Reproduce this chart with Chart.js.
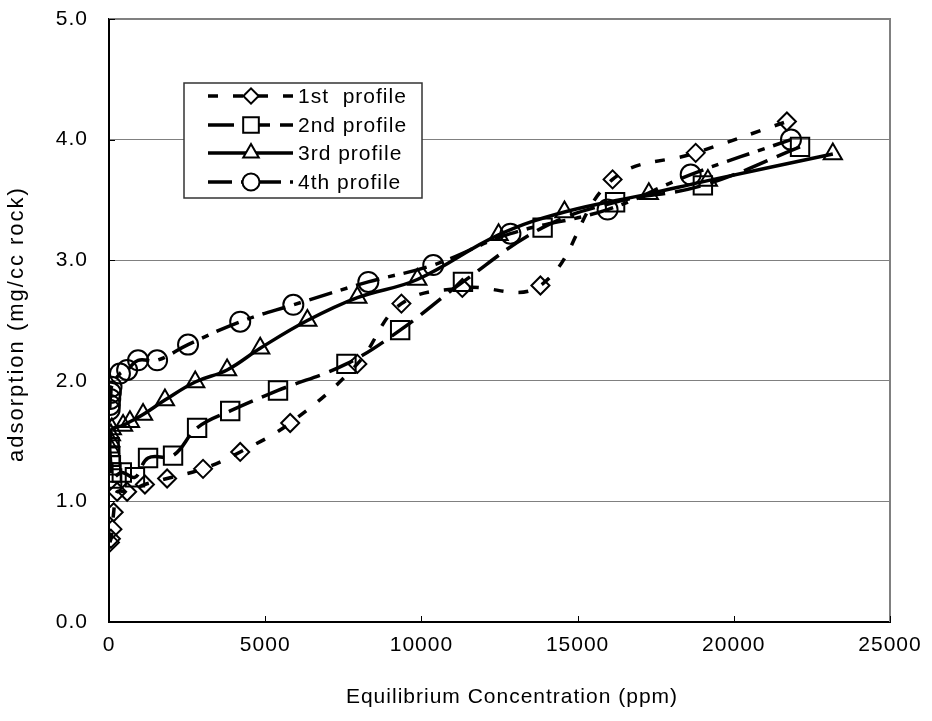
<!DOCTYPE html>
<html>
<head>
<meta charset="utf-8">
<script src="https://cdn.jsdelivr.net/npm/chart.js@4.4.1/dist/chart.umd.min.js"></script>
<style>
  body { margin: 0; background: #fff; }
  canvas { display: block; }
</style>
</head>
<body>
<canvas id="isoChart" width="932" height="721"></canvas>
<script>
// Adsorption isotherms, four profiles

const xTicks = [0, 5000, 10000, 15000, 20000, 25000];
const yTicks = [0, 1, 2, 3, 4, 5];

const p1X = [30, 60, 110, 150, 260, 580, 1150, 1860, 3010, 4200, 5800, 7950, 9360, 11310, 13810, 16120, 18780, 21700];
const p1Y = [0.66, 0.69, 0.77, 0.91, 1.08, 1.08, 1.14, 1.19, 1.27, 1.41, 1.65, 2.14, 2.64, 2.77, 2.79, 3.67, 3.89, 4.15];

const p2X = [20, 40, 60, 80, 100, 410, 830, 1250, 2050, 2820, 3880, 5410, 7600, 9320, 11330, 13880, 16200, 19010, 22120];
const p2Y = [1.45, 1.37, 1.30, 1.24, 1.19, 1.24, 1.20, 1.36, 1.38, 1.61, 1.75, 1.92, 2.14, 2.42, 2.82, 3.27, 3.48, 3.62, 3.94];

const p3X = [20, 40, 60, 90, 450, 670, 1090, 1790, 2760, 3780, 4840, 6350, 7950, 9870, 12470, 14580, 17280, 19170, 23170];
const p3Y = [1.45, 1.50, 1.55, 1.60, 1.63, 1.66, 1.72, 1.84, 1.99, 2.09, 2.27, 2.50, 2.69, 2.84, 3.21, 3.40, 3.55, 3.66, 3.88];

const p4X = [20, 30, 40, 60, 80, 350, 580, 930, 1540, 2530, 4200, 5900, 8300, 10380, 12850, 15960, 18620, 21830];
const p4Y = [1.76, 1.80, 1.85, 1.90, 1.95, 2.06, 2.09, 2.17, 2.17, 2.30, 2.49, 2.63, 2.82, 2.96, 3.22, 3.42, 3.71, 4.00];

const seriesNames = ["1st  profile", "2nd profile", "3rd profile", "4th profile"];
const xTitle = "Equilibrium Concentration (ppm)";
const yTitle = "adsorption (mg/cc rock)";

const FONT = "'Liberation Sans', Arial, sans-serif";

function pts(xs, ys) {
	return xs.map((x, i) => ({ x: x, y: ys[i] }));
}

function profile(label, xs, ys, style, radius, dash) {
	return {
		label: label,
		data: pts(xs, ys),
		showLine: true,
		tension: 0.4,
		borderColor: "#000",
		borderWidth: 3.5,
		borderDash: dash,
		borderCapStyle: "butt",
		pointStyle: style,
		pointRadius: radius,
		pointHoverRadius: radius,
		pointBorderWidth: 2,
		pointBorderColor: "#000",
		pointBackgroundColor: "rgba(0,0,0,0)",
	};
}

// the original text is a bit wider than plain Arial
const spacing = {
	id: "spacing",
	beforeDraw(chart) {
		chart.ctx.letterSpacing = "1px";
	},
};

// axis titles, legend box, inward ticks, gray frame on top/right
const decor = {
	id: "decor",
	afterDraw(chart) {
		const ctx = chart.ctx;
		const a = chart.chartArea;
		const xs = chart.scales.x;
		const ys = chart.scales.y;
		ctx.save();
		ctx.strokeStyle = "#808080";
		ctx.lineWidth = 2;
		ctx.beginPath();
		ctx.moveTo(a.left, a.top);
		ctx.lineTo(a.right, a.top);
		ctx.lineTo(a.right, a.bottom);
		ctx.stroke();

		ctx.strokeStyle = "#000";
		ctx.lineWidth = 1;
		ctx.beginPath();
		xTicks.forEach((v) => {
			const px = Math.round(xs.getPixelForValue(v)) + 0.5;
			ctx.moveTo(px, a.bottom);
			ctx.lineTo(px, a.bottom - 6);
		});
		yTicks.forEach((v) => {
			const py = Math.round(ys.getPixelForValue(v)) + 0.5;
			ctx.moveTo(a.left, py);
			ctx.lineTo(a.left + 6, py);
		});
		ctx.stroke();

		// axis titles
		ctx.fillStyle = "#000";
		ctx.textAlign = "center";
		ctx.textBaseline = "middle";
		ctx.font = "21px " + FONT;
		ctx.letterSpacing = "1px";
		ctx.fillText(xTitle, 512, 697);
		ctx.save();
		ctx.translate(17, 324);
		ctx.rotate(-Math.PI / 2);
		ctx.font = "22px " + FONT;
		ctx.letterSpacing = "2px";
		ctx.fillText(yTitle, 0, 0);
		ctx.restore();

		// legend
		const bx = 184, by = 83, bw = 238, bh = 115;
		ctx.fillStyle = "#fff";
		ctx.fillRect(bx, by, bw, bh);
		ctx.strokeStyle = "#333";
		ctx.lineWidth = 1.5;
		ctx.strokeRect(bx, by, bw, bh);
		const rows = [96, 125, 153, 182];
		chart.data.datasets.forEach((ds, i) => {
			const y = rows[i];
			ctx.strokeStyle = "#000";
			ctx.lineWidth = ds.borderWidth;
			ctx.lineCap = "butt";
			ctx.setLineDash(ds.borderDash);
			ctx.beginPath();
			ctx.moveTo(208, y);
			ctx.lineTo(293, y);
			ctx.stroke();
			ctx.setLineDash([]);
			ctx.fillStyle = "#fff";
			ctx.lineWidth = 2;
			Chart.helpers.drawPoint(ctx, {
				pointStyle: ds.pointStyle,
				radius: ds.pointRadius * 0.85,
				rotation: 0,
				borderWidth: 2,
			}, 251, y);
			ctx.fillStyle = "#000";
			ctx.font = "21px " + FONT;
			ctx.letterSpacing = "1px";
			ctx.textBaseline = "middle";
			ctx.textAlign = "left";
			ctx.fillText(ds.label, 298, y + 1);
		});
		ctx.restore();
	},
};

const ctxIso = document.getElementById("isoChart");
new Chart(ctxIso, {
	type: "scatter",
	data: {
		datasets: [
			profile(seriesNames[0], p1X, p1Y, "rectRot", 9, [10, 15]),
			profile(seriesNames[1], p2X, p2Y, "rect", 13, [26, 10]),
			profile(seriesNames[2], p3X, p3Y, "triangle", 10.5, []),
			profile(seriesNames[3], p4X, p4Y, "circle", 10, [24, 9, 7, 9]),
		],
	},
	options: {
		responsive: false,
		animation: false,
		events: [],
		layout: {
			autoPadding: false,
			padding: { left: 0, right: 42, top: 19, bottom: 0 },
		},
		plugins: {
			legend: { display: false },
			tooltip: { enabled: false },
		},
		scales: {
			x: {
				type: "linear",
				min: 0,
				max: 25000,
				afterBuildTicks: (s) => {
					s.ticks = xTicks.map((v) => ({ value: v }));
				},
				afterFit: (s) => {
					s.height = 99;
					s.paddingLeft = 0;
					s.paddingRight = 0;
				},
				grid: { display: false, drawTicks: false },
				border: { display: true, color: "#000", width: 2 },
				ticks: {
					color: "#000",
					padding: 11,
					maxRotation: 0,
					font: { family: FONT, size: 21 },
					callback: (v) => String(v),
				},
				title: { display: false },
			},
			y: {
				type: "linear",
				min: 0,
				max: 5,
				afterBuildTicks: (s) => {
					s.ticks = yTicks.map((v) => ({ value: v }));
				},
				afterFit: (s) => {
					s.width = 109;
					s.paddingTop = 0;
					s.paddingBottom = 0;
				},
				grid: { color: "#808080", lineWidth: 1, drawTicks: false },
				border: { display: true, color: "#000", width: 2 },
				ticks: {
					color: "#000",
					padding: 21,
					font: { family: FONT, size: 21 },
					callback: (v) => Number(v).toFixed(1),
				},
				title: { display: false },
			},
		},
	},
	plugins: [spacing, decor],
});
</script>
</body>
</html>
